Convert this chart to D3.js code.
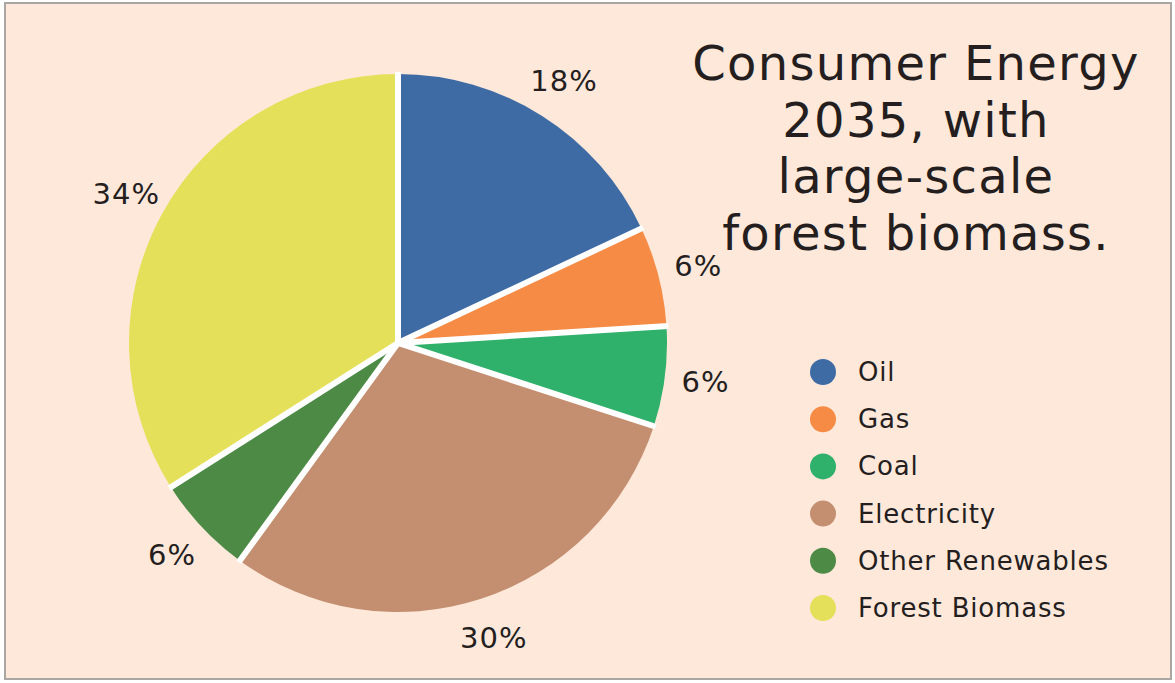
<!DOCTYPE html>
<html>
<head>
<meta charset="utf-8">
<script src="https://cdn.jsdelivr.net/npm/d3@7"></script>
<style>
  html, body { margin: 0; padding: 0; background: #ffffff; }
  svg { display: block; }
  text { font-family: "DejaVu Sans", "Open Sans", sans-serif; fill: #241e1e; }
</style>
</head>
<body>
<svg id="chart" width="1175" height="683"></svg>
<script>
// Consumer energy shares, 2035 scenario
const categories = ["Oil", "Gas", "Coal", "Electricity", "Other Renewables", "Forest Biomass"];
const shares = [18, 6, 6, 30, 6, 34];
const colors = ["#3e6ba4", "#f58b45", "#2fb06b", "#c48f70", "#4c8a45", "#e5e05a"];
const titleLines = ["Consumer Energy", "2035, with", "large-scale", "forest biomass."];

const W = 1175, H = 683;
const svg = d3.select("#chart");

// frame
svg.append("rect")
  .attr("x", 5).attr("y", 3).attr("width", W - 9).attr("height", H - 7)
  .attr("fill", "#fde8da").attr("stroke", "#a9a6a4").attr("stroke-width", 2);

const data = categories.map((c, i) => ({ name: c, value: shares[i], color: colors[i] }));

const cx = 398, cy = 343, R = 269;
const pie = d3.pie().sort(null).value(d => d.value);
const arcs = pie(data);
const arc = d3.arc().innerRadius(0).outerRadius(R);
const labelArc = d3.arc().innerRadius(310).outerRadius(310);

const g = svg.append("g").attr("transform", `translate(${cx},${cy})`);

g.selectAll("path.slice")
  .data(arcs)
  .join("path")
  .attr("class", "slice")
  .attr("d", arc)
  .attr("fill", d => d.data.color);

// white separators along each slice boundary
g.selectAll("line.sep")
  .data(arcs)
  .join("line")
  .attr("class", "sep")
  .attr("x1", 0).attr("y1", 0)
  .attr("x2", d => Math.sin(d.startAngle) * (R + 2))
  .attr("y2", d => -Math.cos(d.startAngle) * (R + 2))
  .attr("stroke", "#ffffff")
  .attr("stroke-width", 6);

g.selectAll("text.pct")
  .data(arcs)
  .join("text")
  .attr("class", "pct")
  .attr("transform", d => `translate(${labelArc.centroid(d)})`)
  .attr("text-anchor", "middle")
  .attr("dominant-baseline", "central")
  .style("font-size", "29px")
  .style("letter-spacing", "1px")
  .text(d => d.data.value + "%");

// title
titleLines.forEach((t, i) => {
  svg.append("text")
    .attr("class", "title")
    .attr("text-anchor", "middle")
    .attr("x", 916).attr("y", 80 + i * 56.5)
    .style("font-size", "48px")
    .style("letter-spacing", "1.3px")
    .text(t);
});

// legend
const legend = svg.append("g").attr("transform", "translate(823,372)");
const rows = legend.selectAll("g.row")
  .data(data)
  .join("g")
  .attr("class", "row")
  .attr("transform", (d, i) => `translate(0,${i * 47.2})`);
rows.append("circle").attr("r", 13).attr("fill", d => d.color);
rows.append("text")
  .attr("x", 35)
  .attr("dominant-baseline", "central")
  .style("font-size", "26px")
  .style("letter-spacing", "0.8px")
  .text(d => d.name);
</script>
</body>
</html>
